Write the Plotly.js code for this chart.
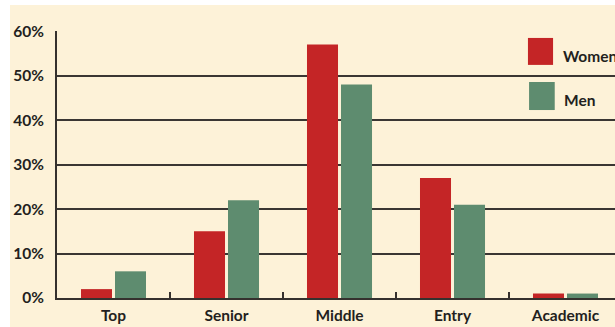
<!DOCTYPE html>
<html>
<head>
<meta charset="utf-8">
<script src="https://cdn.plot.ly/plotly-3.0.1.min.js"></script>
<style>
html,body{margin:0;padding:0;background:#ffffff;}
#chart{position:absolute;left:10px;top:5px;width:605px;height:322px;}
</style>
</head>
<body>
<div id="chart"></div>
<script>
const categories = ["Top", "Senior", "Middle", "Entry", "Academic"];
const seriesNames = ["Women", "Men"];
const women = [2, 15, 57, 27, 1];
const men = [6, 22, 48, 21, 1];
const yTickVals = [0, 10, 20, 30, 40, 50, 60];
const yTickText = ["0%", "10%", "20%", "30%", "40%", "50%", "60%"];

const colors = ["#C42526", "#5E8C6F"];
const fontFamily = "Lato, 'Open Sans', 'DejaVu Sans', sans-serif";
const fontSize = 15.5;

const traces = [women, men].map((vals, i) => ({
  type: "bar",
  name: seriesNames[i],
  x: categories,
  y: vals,
  marker: {color: colors[i], line: {width: 0}},
  hoverinfo: "skip"
}));

const legendBoxes = [
  {x0: 0.844, x1: 0.889, y0: 0.873, y1: 0.974},
  {x0: 0.846, x1: 0.892, y0: 0.704, y1: 0.809}
];
const legendText = [
  {x: 0.903, y: 0.908},
  {x: 0.905, y: 0.740}
];

const layout = {
  width: 605,
  height: 322,
  margin: {l: 47, r: 0, t: 26, b: 29, pad: 0},
  paper_bgcolor: "#FDF2D8",
  plot_bgcolor: "#FDF2D8",
  showlegend: false,
  barmode: "group",
  bargap: 0.398,
  bargroupgap: 0.088,
  font: {family: fontFamily, size: fontSize, color: "#231F20"},
  xaxis: {
    type: "category",
    range: [-0.5, 4.438],
    showgrid: false,
    showline: true,
    linecolor: "#35312E",
    linewidth: 2,
    ticks: "inside",
    tickson: "boundaries",
    ticklen: 6,
    tickwidth: 2,
    tickcolor: "#35312E",
    tickfont: {family: fontFamily, size: fontSize, weight: "bold", color: "#231F20"},
    ticklabelstandoff: 2,
    zeroline: false,
    fixedrange: true
  },
  yaxis: {
    range: [0, 60.05],
    tickvals: yTickVals,
    ticktext: yTickText,
    showgrid: true,
    gridcolor: "#3A3633",
    gridwidth: 2,
    showline: true,
    linecolor: "#35312E",
    linewidth: 2,
    ticks: "",
    zeroline: false,
    tickfont: {family: fontFamily, size: fontSize, weight: "bold", color: "#231F20"},
    ticklabelstandoff: 8,
    fixedrange: true
  },
  shapes: legendBoxes.map((b, i) => ({
    type: "rect", xref: "paper", yref: "paper",
    x0: b.x0, x1: b.x1, y0: b.y0, y1: b.y1,
    fillcolor: colors[i], line: {width: 0}, layer: "above"
  })),
  annotations: legendText.map((p, i) => ({
    xref: "paper", yref: "paper", x: p.x, y: p.y,
    xanchor: "left", yanchor: "middle", showarrow: false,
    text: seriesNames[i],
    font: {family: fontFamily, size: fontSize, weight: "bold", color: "#231F20"}
  }))
};

Plotly.newPlot("chart", traces, layout, {displayModeBar: false, staticPlot: true});
</script>
</body>
</html>
